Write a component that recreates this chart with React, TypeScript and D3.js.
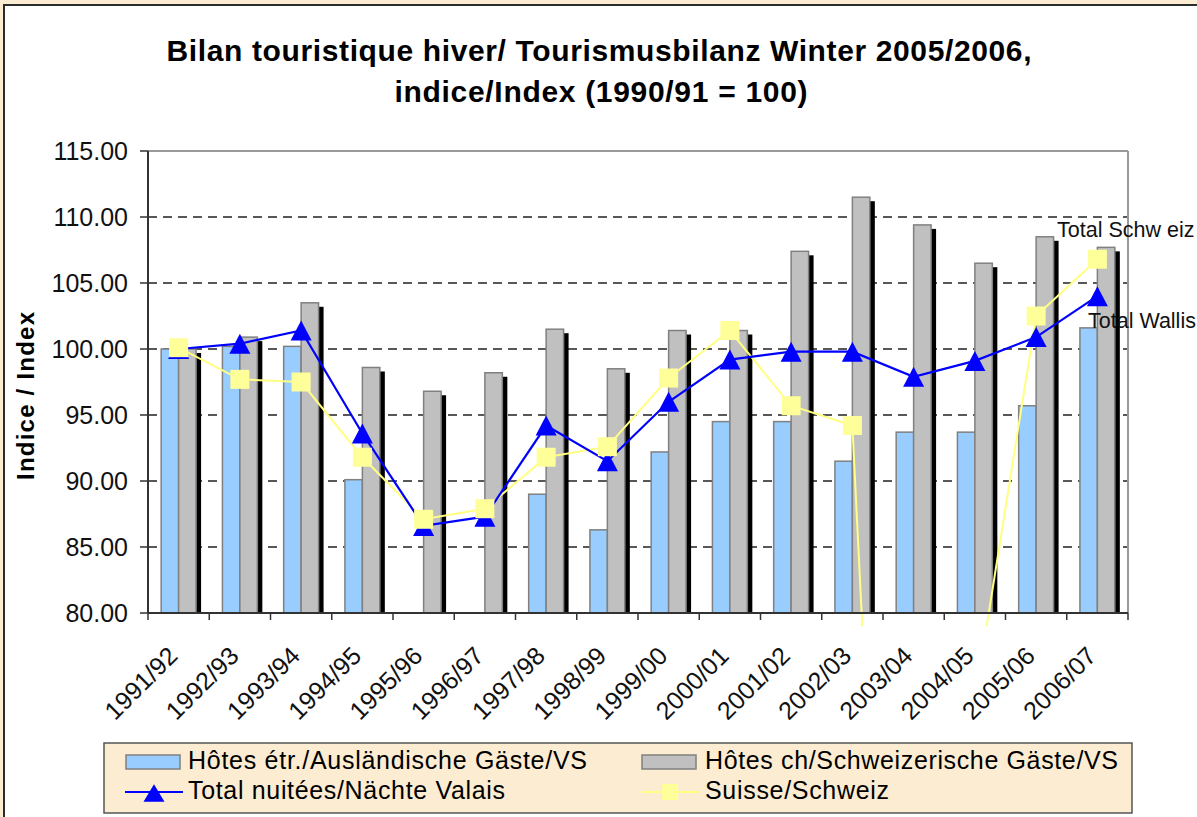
import React from 'react';
import * as d3 from 'd3';

const categories = ['1991/92','1992/93','1993/94','1994/95','1995/96','1996/97','1997/98','1998/99','1999/00','2000/01','2001/02','2002/03','2003/04','2004/05','2005/06','2006/07'];
const hotesEtr: (number | null)[] = [100.0, 100.2, 100.2, 90.1, null, null, 89.0, 86.3, 92.2, 94.5, 94.5, 91.5, 93.7, 93.7, 95.7, 101.6];
const hotesCh = [100.0, 100.9, 103.5, 98.6, 96.8, 98.2, 101.5, 98.5, 101.4, 101.4, 107.4, 111.5, 109.4, 106.5, 108.5, 107.7];
const totalValais = [100.0, 100.4, 101.4, 93.6, 86.6, 87.3, 94.2, 91.5, 96.0, 99.2, 99.8, 99.8, 97.9, 99.1, 100.9, 104.0];
const suisse = [100.1, 97.7, 97.5, 91.8, 87.1, 87.9, 91.8, 92.6, 97.8, 101.4, 95.7, 94.2, 0, 73.4, 102.5, 106.8];
const yTicks = [80, 85, 90, 95, 100, 105, 110, 115];
const titleLines = ['Bilan touristique hiver/ Tourismusbilanz Winter 2005/2006,', 'indice/Index (1990/91 = 100)'];
const yAxisTitle = 'Indice / Index';
const legendLabels = ['Hôtes étr./Ausländische Gäste/VS', 'Hôtes ch/Schweizerische Gäste/VS', 'Total nuitées/Nächte Valais', 'Suisse/Schweiz'];
const endLabels = ['Total Schw eiz', 'Total Wallis'];

const W = 1197, H = 817;
const L = 148, R = 1128, T = 151, B = 613;
const FONT = "'Liberation Sans', Arial, sans-serif";

const BLUE_FILL = '#99CCFF';
const GRAY_FILL = '#C0C0C0';
const BAR_STROKE = '#808080';
const LINE_BLUE = '#0000FF';
const LINE_YELLOW = '#FFFF80';
const SQUARE_FILL = '#FFFF99';
const BEIGE = '#FBECD2';

export default function App() {
  const x = d3.scaleBand<string>().domain(categories).range([L, R]).padding(0);
  const y = d3.scaleLinear().domain([80, 115]).range([B, T]);
  const bw = x.bandwidth();
  const groupW = bw * 0.57;
  const inner = d3.scaleBand<number>().domain([0, 1]).range([0, groupW]).padding(0);
  const barW = inner.bandwidth();
  const cx = (c: string) => (x(c) as number) + bw / 2;
  const fmt = d3.format('.2f');

  const lineGen = d3.line<[number, number]>().x(d => d[0]).y(d => d[1]);
  const valaisPts = categories.map((c, i) => [cx(c), y(totalValais[i])] as [number, number]);
  const suissePts = categories.map((c, i) => [cx(c), y(suisse[i])] as [number, number]);

  const tri = (px: number, py: number, hw: number, hh: number) =>
    `M${px},${py - hh}L${px + hw},${py + hh}L${px - hw},${py + hh}Z`;

  const bars = (vals: (number | null)[], idx: number, fill: string) =>
    categories.map((c, i) => {
      const v = vals[i];
      if (v == null || v <= 80) return null;
      const bx = (x(c) as number) + (bw - groupW) / 2 + (inner(idx) as number);
      const by = y(v);
      return (
        <g key={c}>
          <rect x={bx + 5} y={by + 4} width={barW} height={B - by - 4} fill="#000" />
          <rect x={bx} y={by} width={barW} height={B - by} fill={fill} stroke={BAR_STROKE} strokeWidth={1.5} />
        </g>
      );
    });

  return (
    <svg width={W} height={H} style={{ position: 'absolute', left: 0, top: 0, display: 'block' }} fontFamily={FONT}>
      <defs>
        <clipPath id="plotClip">
          <rect x={L} y={T - 12} width={R - L} height={B - T + 25} />
        </clipPath>
        <clipPath id="markerClip">
          <rect x={L - 12} y={T - 12} width={R - L + 24} height={B - T + 24} />
        </clipPath>
      </defs>
      <rect x={0} y={0} width={W} height={H} fill={BEIGE} />
      <rect x={4} y={5} width={W + 20} height={H + 20} fill="#fff" stroke="#2b2b2b" strokeWidth={2} />

      {/* title */}
      <text x={599} y={61} textAnchor="middle" fontSize={30} fontWeight="bold" textLength={865} lengthAdjust="spacing">{titleLines[0]}</text>
      <text x={601} y={102} textAnchor="middle" fontSize={30} fontWeight="bold" textLength={413} lengthAdjust="spacing">{titleLines[1]}</text>

      {/* grid */}
      {yTicks.filter(t => t > 80 && t < 115).map(t => (
        <line key={t} x1={L} x2={R} y1={y(t)} y2={y(t)} stroke="#222" strokeWidth={1.3} strokeDasharray="9,6" />
      ))}
      <line x1={L} x2={R} y1={T} y2={T} stroke="#999" strokeWidth={2} />
      <line x1={R} x2={R} y1={T} y2={B} stroke="#999" strokeWidth={2} />

      {/* bars */}
      {bars(hotesEtr, 0, BLUE_FILL)}
      {bars(hotesCh, 1, GRAY_FILL)}

      {/* lines */}
      <g clipPath="url(#plotClip)">
        <path d={lineGen(suissePts) || ''} fill="none" stroke={LINE_YELLOW} strokeWidth={2} />
        <path d={lineGen(valaisPts) || ''} fill="none" stroke={LINE_BLUE} strokeWidth={2.2} />
      </g>
      <g clipPath="url(#markerClip)">
        {valaisPts.map((p, i) => (
          <path key={'t' + i} d={tri(p[0], p[1], 10.5, 10)} fill={LINE_BLUE} />
        ))}
        {suissePts.map((p, i) => (
          <rect key={'s' + i} x={p[0] - 9.5} y={p[1] - 9.5} width={19} height={19} fill={SQUARE_FILL} />
        ))}
      </g>

      {/* axes */}
      <line x1={L} x2={L} y1={T} y2={B} stroke="#333" strokeWidth={2} />
      <line x1={L} x2={R} y1={B} y2={B} stroke="#333" strokeWidth={2} />
      {yTicks.map(t => (
        <g key={t}>
          <line x1={L - 8} x2={L} y1={y(t)} y2={y(t)} stroke="#333" strokeWidth={1.5} />
          <text x={128} y={y(t)} dy="0.36em" textAnchor="end" fontSize={25} fill="#111">{fmt(t)}</text>
        </g>
      ))}
      {categories.map(c => (
        <line key={c} x1={x(c) as number} x2={x(c) as number} y1={B} y2={B + 7} stroke="#333" strokeWidth={1.5} />
      ))}
      <line x1={R} x2={R} y1={B} y2={B + 7} stroke="#333" strokeWidth={1.5} />
      {categories.map(c => (
        <text key={c} transform={`translate(${cx(c) - 6},${B + 38}) rotate(-45)`} textAnchor="end" dy="0.36em" fontSize={25} fill="#111">{c}</text>
      ))}

      <text transform={`translate(34,396) rotate(-90)`} textAnchor="middle" fontSize={24} fontWeight="bold" textLength={168} lengthAdjust="spacing">{yAxisTitle}</text>

      {/* end labels */}
      <text x={1057} y={237} fontSize={21.5} fill="#111">{endLabels[0]}</text>
      <text x={1088} y={328} fontSize={21.5} fill="#111">{endLabels[1]}</text>

      {/* legend */}
      <rect x={104} y={743} width={1028} height={70} fill={BEIGE} stroke="#555" strokeWidth={1.5} />
      <rect x={126} y={755} width={54} height={14} fill={BLUE_FILL} stroke={BAR_STROKE} strokeWidth={1.5} />
      <text x={188} y={769} fontSize={25} textLength={399} lengthAdjust="spacing">{legendLabels[0]}</text>
      <rect x={642} y={755} width={54} height={14} fill={GRAY_FILL} stroke={BAR_STROKE} strokeWidth={1.5} />
      <text x={705} y={769} fontSize={25} textLength={413} lengthAdjust="spacing">{legendLabels[1]}</text>
      <line x1={125} x2={183} y1={792} y2={792} stroke={LINE_BLUE} strokeWidth={2} />
      <path d={tri(154, 793, 10.5, 8.7)} fill={LINE_BLUE} />
      <text x={188} y={799} fontSize={25} textLength={317} lengthAdjust="spacing">{legendLabels[2]}</text>
      <line x1={641} x2={699} y1={792} y2={792} stroke={LINE_YELLOW} strokeWidth={2} />
      <rect x={662} y={784} width={16} height={16} fill={SQUARE_FILL} />
      <text x={705} y={799} fontSize={25} textLength={184} lengthAdjust="spacing">{legendLabels[3]}</text>
    </svg>
  );
}
